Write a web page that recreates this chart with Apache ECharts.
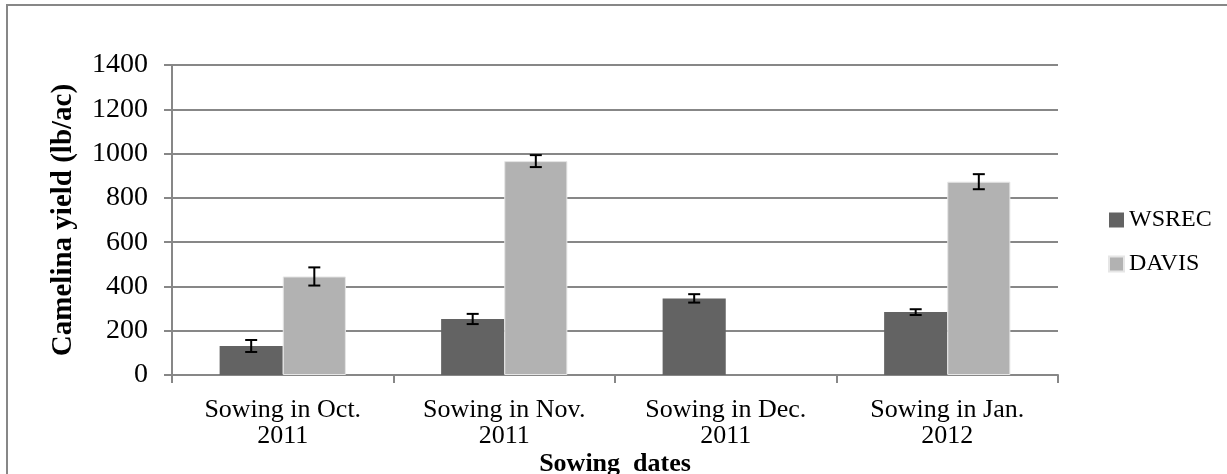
<!DOCTYPE html>
<html>
<head>
<meta charset="utf-8">
<script src="https://cdn.jsdelivr.net/npm/echarts@6/dist/echarts.min.js"></script>
<style>
  html, body { margin: 0; padding: 0; background: #fff; }
  #chart { width: 1227px; height: 474px; }
</style>
</head>
<body>
<div id="chart"></div>
<script>
// data
var categories = ['Sowing in Oct.\n2011', 'Sowing in Nov.\n2011', 'Sowing in Dec.\n2011', 'Sowing in Jan.\n2012'];
var wsrec = [131, 253, 346, 284];
var wsrecErr = [27, 23, 19, 13];
var davis = [445, 966, null, 873];
var davisErr = [41, 27, null, 34];
var yTicks = [0, 200, 400, 600, 800, 1000, 1200, 1400];

var FONT = '"Liberation Serif", serif';
var GRID = '#878787';

var chart = echarts.init(document.getElementById('chart'));

// error bars drawn on top of the grouped bars
function errorSeries(vals, errs, side) {
  var data = [];
  vals.forEach(function (v, i) {
    if (v != null) data.push([i, v - errs[i], v + errs[i]]);
  });
  return {
    type: 'custom',
    z: 10,
    silent: true,
    data: data,
    renderItem: function (params, api) {
      var band = api.size([1, 0])[0];
      var barW = band * 0.57 / 2;
      var lo = api.coord([api.value(0), api.value(1)]);
      var hi = api.coord([api.value(0), api.value(2)]);
      var x = lo[0] + side * barW / 2;
      var cap = 6;
      var st = { stroke: '#000', lineWidth: 2 };
      return {
        type: 'group',
        children: [
          { type: 'line', shape: { x1: x, y1: lo[1], x2: x, y2: hi[1] }, style: st },
          { type: 'line', shape: { x1: x - cap, y1: lo[1], x2: x + cap, y2: lo[1] }, style: st },
          { type: 'line', shape: { x1: x - cap, y1: hi[1], x2: x + cap, y2: hi[1] }, style: st }
        ]
      };
    }
  };
}

chart.setOption({
  animation: false,
  textStyle: { fontFamily: FONT, color: '#000' },
  graphic: [{
    type: 'rect',
    shape: { x: 7, y: 5, width: 1400, height: 700 },
    style: { fill: 'none', stroke: GRID, lineWidth: 2 },
    silent: true
  }],
  grid: { left: 172, right: 169, top: 65, bottom: 99, outerBoundsMode: 'none', containLabel: false },
  legend: {
    orient: 'vertical',
    left: 1103,
    top: 202,
    itemWidth: 15,
    itemHeight: 15,
    itemGap: 18,
    icon: 'rect',
    textStyle: { fontFamily: FONT, fontSize: 24, color: '#000', lineHeight: 26 },
    data: ['WSREC', 'DAVIS']
  },
  xAxis: {
    type: 'category',
    data: categories,
    name: 'Sowing  dates',
    nameLocation: 'middle',
    nameGap: 76,
    nameMoveOverlap: false,
    nameTextStyle: { fontFamily: FONT, fontSize: 26, fontWeight: 'bold', color: '#000' },
    axisLine: { lineStyle: { color: GRID, width: 2 } },
    axisTick: { show: true, length: 8, lineStyle: { color: GRID, width: 2 } },
    axisLabel: { fontFamily: FONT, fontSize: 26, color: '#000', margin: 22, lineHeight: 26 }
  },
  yAxis: {
    type: 'value',
    min: 0,
    max: 1400,
    interval: 200,
    name: 'Camelina yield (lb/ac)',
    nameLocation: 'middle',
    nameGap: 94,
    nameMoveOverlap: false,
    nameTextStyle: { fontFamily: FONT, fontSize: 29, fontWeight: 'bold', color: '#000' },
    axisLine: { show: true, lineStyle: { color: GRID, width: 2 } },
    axisTick: { show: true, length: 8, lineStyle: { color: GRID, width: 2 } },
    axisLabel: {
      fontFamily: FONT, fontSize: 28, color: '#000', margin: 24,
      formatter: function (v) { return yTicks.indexOf(v) >= 0 ? String(v) : ''; }
    },
    splitLine: { lineStyle: { color: GRID, width: 2 } }
  },
  series: [
    {
      name: 'WSREC',
      type: 'bar',
      data: wsrec,
      barGap: '0%',
      barCategoryGap: '43%',
      itemStyle: { color: '#636363' }
    },
    {
      name: 'DAVIS',
      type: 'bar',
      data: davis.map(function (v) { return v == null ? '-' : v; }),
      itemStyle: { color: '#b2b2b2', borderColor: '#e6e6e6', borderWidth: 1 }
    },
    errorSeries(wsrec, wsrecErr, -1),
    errorSeries(davis, davisErr, 1)
  ]
});
</script>
</body>
</html>
